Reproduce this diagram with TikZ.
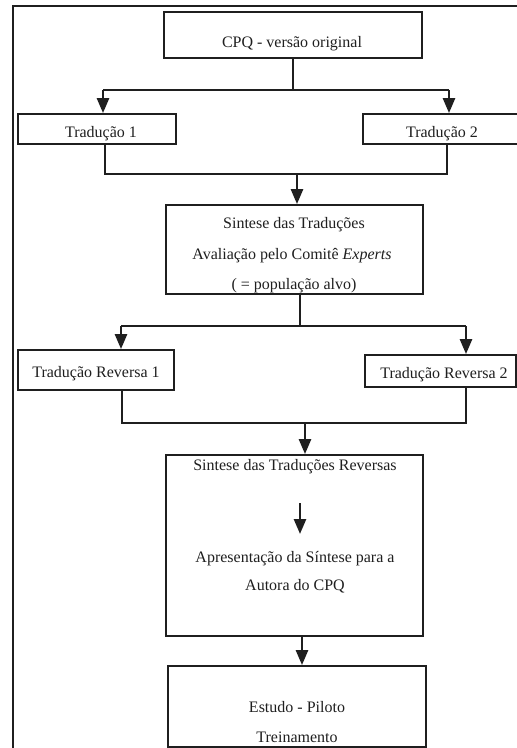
\documentclass[tikz,border=0pt]{standalone}
\usepackage{fontspec}
\setmainfont{Liberation Serif}
\usetikzlibrary{arrows.meta}
\begin{document}
\begin{tikzpicture}[x=1pt,y=-1pt,
  boxst/.style={draw=black!88,line width=1.8pt,inner sep=0pt,rectangle},
  txt/.style={font=\fontsize{16}{19}\selectfont,inner sep=0pt,anchor=base,text=black!88},
  conn/.style={draw=black!88,line width=2.6pt},
  arr/.style={conn,-{Triangle[width=12pt,length=15pt]}}]
\useasboundingbox (0,0) rectangle (517,748);
\fill[white] (0,0) rectangle (517,748);
% outer frame
\coordinate (fbl) at (13,760);
\coordinate (ftl) at (13,6);
\coordinate (ftr) at (530,6);
\draw[draw=black!88,line width=2pt] (fbl) -- (ftl) -- (ftr);
% boxes
\node[boxst,minimum width=258pt,minimum height=46pt] (cpq) at (293,35) {};
\node[boxst,minimum width=158pt,minimum height=30pt] (t1) at (97,129) {};
\node[boxst,minimum width=159pt,minimum height=30pt] (t2) at (442.5,129) {};
\node[boxst,minimum width=257pt,minimum height=89pt] (syn) at (294.5,249.5) {};
\node[boxst,minimum width=156pt,minimum height=40pt] (r1) at (96,370) {};
\node[boxst,minimum width=151pt,minimum height=32pt] (r2) at (440.5,371) {};
\node[boxst,minimum width=257pt,minimum height=181pt] (big) at (294.5,545.5) {};
\node[boxst,minimum width=258pt,minimum height=81pt] (bot) at (297,706.5) {};
% texts
\node[txt] (cpqt) at (292,47) {CPQ - versão original};
\node[txt] (t1t) at (101,137) {Tradução 1};
\node[txt] (t2t) at (442,137) {Tradução 2};
\node[txt] (syn1) at (294,228) {Sintese das Traduções};
\node[txt] (syn2) at (292,259) {Avaliação pelo Comitê \textit{Experts}};
\node[txt] (syn3) at (294,289) {( = população alvo)};
\node[txt] (r1t) at (96,377) {Tradução Reversa 1};
\node[txt] (r2t) at (444,378) {Tradução Reversa 2};
\node[txt] (big1) at (295,470) {Sintese das Traduções Reversas};
\node[txt] (big2) at (295,562) {Apresentação da Síntese para a};
\node[txt] (big3) at (295,590) {Autora do CPQ};
\node[txt] (bot1) at (297,712) {Estudo - Piloto};
\node[txt] (bot2) at (297,742) {Treinamento};
% split 1
\coordinate (s1) at (293,90);
\coordinate (s1l) at (103,90);
\coordinate (s1r) at (449,90);
\draw[conn] (cpq.south) -- (s1);
\draw[conn] (s1l) -- (s1r);
\draw[arr] (s1l) -- (s1l |- t1.north);
\draw[arr] (s1r) -- (s1r |- t2.north);
% join 1
\coordinate (j1l) at (105,174);
\coordinate (j1r) at (447,174);
\coordinate (j1) at (297,174);
\draw[conn] (j1l |- t1.south) -- (j1l) -- (j1r) -- (j1r |- t2.south);
\draw[arr] (j1) -- (j1 |- syn.north);
% split 2
\coordinate (s2) at (300,326);
\coordinate (s2l) at (121,326);
\coordinate (s2r) at (466,326);
\draw[conn] (s2 |- syn.south) -- (s2);
\draw[conn] (s2l) -- (s2r);
\draw[arr] (s2l) -- (s2l |- r1.north);
\draw[arr] (s2r) -- (s2r |- r2.north);
% join 2
\coordinate (j2l) at (122,423);
\coordinate (j2r) at (466,423);
\coordinate (j2) at (305,423);
\draw[conn] (j2l |- r1.south) -- (j2l) -- (j2r) -- (j2r |- r2.south);
\draw[arr] (j2) -- (j2 |- big.north);
% inner arrow
\coordinate (ia1) at (300,503);
\coordinate (ia2) at (300,534);
\draw[arr] (ia1) -- (ia2);
% final arrow
\coordinate (fa) at (302,636);
\draw[arr] (fa |- big.south) -- (fa |- bot.north);
\end{tikzpicture}
\end{document}
